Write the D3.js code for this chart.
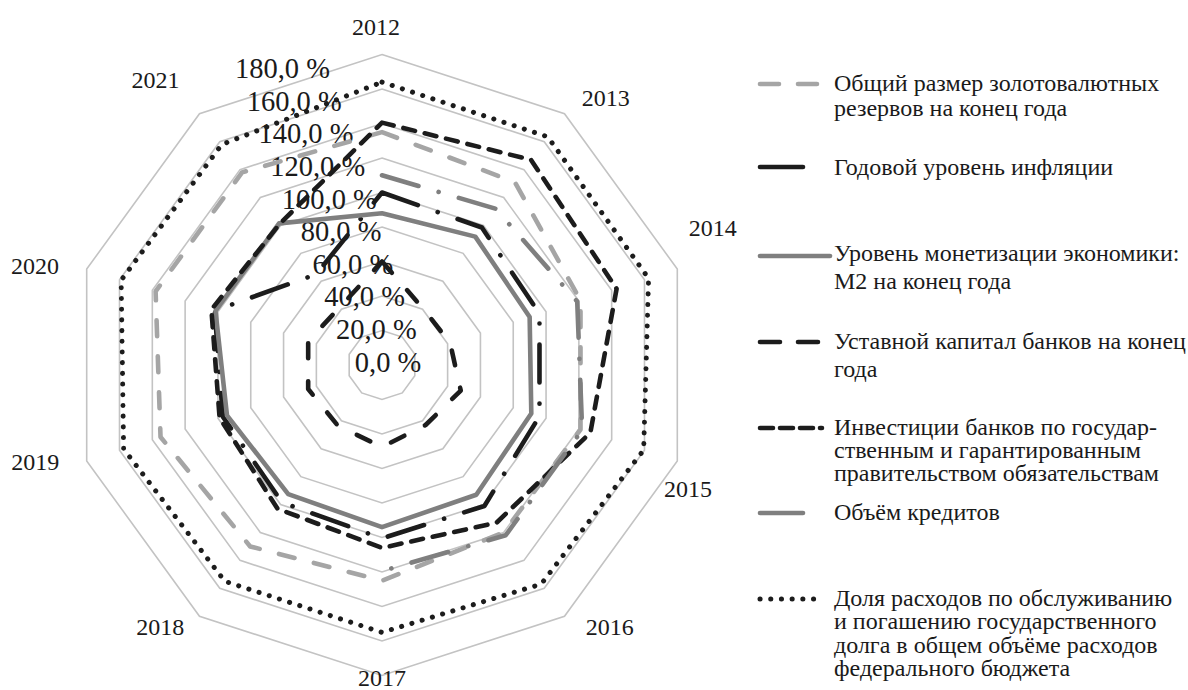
<!DOCTYPE html>
<html>
<head>
<meta charset="utf-8">
<script src="https://cdn.jsdelivr.net/npm/d3@7"></script>
<style>
body { margin: 0; background: #fff; }
svg { font-family: "Liberation Serif", "Times New Roman", serif; }
</style>
</head>
<body>
<div class="radarWrapper"></div>
<script>
var years = ["2012", "2013", "2014", "2015", "2016", "2017", "2018", "2019", "2020", "2021"];
var tickValues = [0, 20, 40, 60, 80, 100, 120, 140, 160, 180];
var tickLabels = ["0,0 %", "20,0 %", "40,0 %", "60,0 %", "80,0 %", "100,0 %", "120,0 %", "140,0 %", "160,0 %", "180,0 %"];

var goldReserves  = [135, 131, 121, 121, 120, 125, 130, 135, 138, 138];
var inflation     = [100, 98.5, 96, 96, 101, 100.5, 98.5, 97, 102, 65];
var moneySupplyM2 = [88, 92, 90, 91, 93, 94, 92.5, 94.5, 101.5, 101.5];
var bankCapital   = [60, 40.5, 41.5, 48, 43, 47.5, 43.5, 45, 45, 41.5];
var bankInvest    = [140.5, 147, 143, 127, 113, 106, 103, 99, 104, 101];
var credits       = [110, 112, 119, 122, 122, 119.5, null, null, null, null];
var debtShare     = [164, 163.5, 162.5, 159.5, 157, 155, 155, 157.5, 159, 158];

var seriesNames = [
    ["Общий размер золотовалютных", "резервов на конец года"],
    ["Годовой уровень инфляции"],
    ["Уровень монетизации экономики:", "М2 на конец года"],
    ["Уставной капитал банков на конец", "года"],
    ["Инвестиции банков по государ-", "ственным и гарантированным", "правительством обязательствам"],
    ["Объём кредитов"],
    ["Доля расходов по обслуживанию", "и погашению государственного", "долга в общем объёме расходов", "федерального бюджета"]
];

var radarView = {
    width: 1188,
    height: 690,
    cx: 382,
    cy: 365,
    radius: 310.5,
    styles: [
        { color: "#a5a5a5", dash: "16 20", closed: true },
        { color: "#1c1c1c", dash: "38 21 0.1 21", closed: true },
        { color: "#7f7f7f", dash: null, closed: true },
        { color: "#1c1c1c", dash: "15 23", closed: true },
        { color: "#1c1c1c", dash: "12 10", closed: true },
        { color: "#7f7f7f", dash: "38 21 0.1 21", closed: false },
        { color: "#1c1c1c", dash: "0.1 10.6", closed: true }
    ],
    // year labels: distance from centre and small turn (degrees) like the excel placement
    yearRadius: [338, 348, 358, 330, 347, 313, 343, 360, 361, 364],
    yearTurn: [-1, 4, -4.5, 4, -5, 0, 4.3, 2.4, -2, -2.5],
    legendRows: [84, 167, 256, 342, 428, 513, 599],
    legendText: [83, 167, 253, 341, 427, 512, 598],
    legendGap: [25, 24, 28, 28, 23, 24, 23.3],
    init: function () {
        this.svg = d3.select(".radarWrapper")
            .append("svg")
            .attr("width", this.width)
            .attr("height", this.height);
        this.rScale = d3.scaleLinear()
            .domain([0, 180])
            .range([0, this.radius]);
        this.aScale = d3.scaleLinear()
            .domain([0, years.length])
            .range([0, 2 * Math.PI]);
        this.series = [goldReserves, inflation, moneySupplyM2, bankCapital, bankInvest, credits, debtShare];
        this.g = this.svg.append("g")
            .attr("transform", "translate(" + this.cx + "," + this.cy + ")");
    },
    render: function () {
        this.init();
        this.drawGrid();
        this.drawTicks();
        this.drawLines();
        this.drawYears();
        this.drawLegend();
    },
    drawGrid: function () {
        var rScale = this.rScale,
            aScale = this.aScale;
        var ring = d3.lineRadial()
            .angle(function (d, i) { return aScale(i); })
            .radius(function (d) { return rScale(d); })
            .curve(d3.curveLinearClosed);
        this.g.selectAll(".ring")
            .data(tickValues.filter(function (v) { return v > 0; }))
            .enter()
            .append("path")
            .attr("class", "ring")
            .attr("d", function (v) { return ring(years.map(function () { return v; })); })
            .attr("fill", "none")
            .attr("stroke", "#c3c3c3")
            .attr("stroke-width", 1.6);
    },
    drawTicks: function () {
        var rScale = this.rScale;
        // labels drift to the right as they get closer to the centre
        this.g.selectAll(".tick")
            .data(tickValues)
            .enter()
            .append("text")
            .attr("class", "tick")
            .attr("x", function (v) { return 6 - 0.34 * rScale(v); })
            .attr("y", function (v) { return -3 - 0.945 * rScale(v); })
            .attr("text-anchor", "middle")
            .attr("dominant-baseline", "central")
            .style("font-size", "28.5px")
            .attr("fill", "#1a1a1a")
            .text(function (v, i) { return tickLabels[i]; });
    },
    drawLines: function () {
        var rScale = this.rScale,
            aScale = this.aScale,
            styles = this.styles;
        this.g.selectAll(".serie")
            .data(this.series)
            .enter()
            .append("path")
            .attr("class", "serie")
            .attr("d", function (d, i) {
                var line = d3.lineRadial()
                    .defined(function (v) { return v !== null; })
                    .angle(function (v, j) { return aScale(j); })
                    .radius(function (v) { return rScale(v); })
                    .curve(styles[i].closed ? d3.curveLinearClosed : d3.curveLinear);
                return line(d);
            })
            .attr("fill", "none")
            .attr("stroke", function (d, i) { return styles[i].color; })
            .attr("stroke-width", function (d, i) { return i == 6 ? 5 : 4.6; })
            .attr("stroke-linecap", "round")
            .attr("stroke-linejoin", "round")
            .attr("stroke-dasharray", function (d, i) { return styles[i].dash; });
    },
    drawYears: function () {
        var aScale = this.aScale,
            radii = this.yearRadius,
            turns = this.yearTurn;
        function pos(i) {
            var a = aScale(i) + turns[i] * Math.PI / 180;
            return [radii[i] * Math.sin(a), -radii[i] * Math.cos(a)];
        }
        this.g.selectAll(".year")
            .data(years)
            .enter()
            .append("text")
            .attr("class", "year")
            .attr("x", function (d, i) { return pos(i)[0]; })
            .attr("y", function (d, i) { return pos(i)[1]; })
            .attr("text-anchor", "middle")
            .attr("dominant-baseline", "central")
            .style("font-size", "24px")
            .attr("fill", "#1a1a1a")
            .text(function (d) { return d; });
    },
    drawLegend: function () {
        var styles = this.styles,
            rows = this.legendRows,
            textRows = this.legendText,
            gaps = this.legendGap;
        var gMark = this.svg.selectAll(".gMark")
            .data(seriesNames)
            .enter()
            .append("g")
            .attr("class", "gMark");

        gMark.append("line")
            .attr("x1", 760)
            .attr("x2", function (d, i) { return i == 2 ? 830 : 822; })
            .attr("y1", function (d, i) { return rows[i]; })
            .attr("y2", function (d, i) { return rows[i]; })
            .attr("stroke", function (d, i) { return styles[i].color; })
            .attr("stroke-width", function (d, i) { return i == 6 ? 5 : 4.6; })
            .attr("stroke-linecap", "round")
            .attr("stroke-dasharray", function (d, i) {
                if (i == 1 || i == 5) return "43 19 0.1 40";
                if (i == 3) return "20 18";
                if (i == 4) return "13 7";
                if (i == 0) return "19 19";
                return styles[i].dash;
            });

        gMark.append("text")
            .attr("x", 834)
            .attr("y", function (d, i) { return textRows[i]; })
            .attr("dominant-baseline", "central")
            .style("font-size", "24px")
            .attr("fill", "#1a1a1a")
            .each(function (d, k) {
                d3.select(this).selectAll("tspan")
                    .data(d)
                    .enter()
                    .append("tspan")
                    .attr("x", 834)
                    .attr("dy", function (t, i) { return i == 0 ? 0 : gaps[k]; })
                    .text(function (t) { return t; });
            });
    }
};

radarView.render();
</script>
</body>
</html>
